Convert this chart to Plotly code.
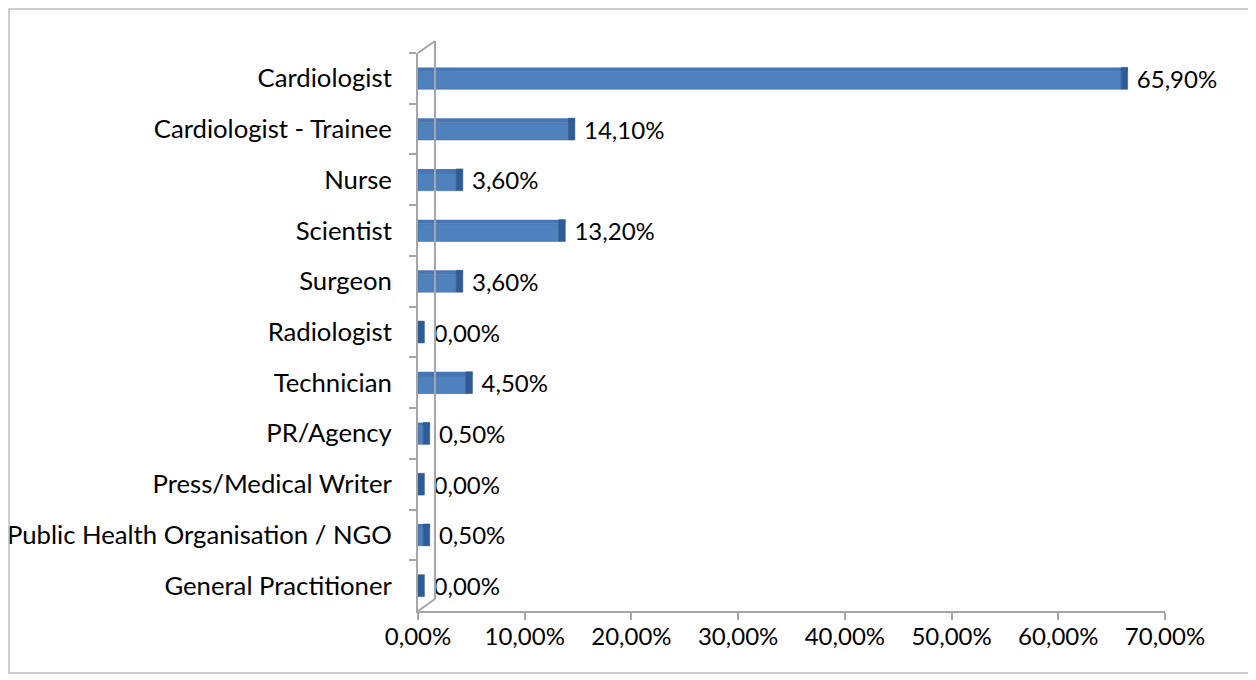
import plotly.graph_objects as go

categories = ["Cardiologist", "Cardiologist - Trainee", "Nurse", "Scientist", "Surgeon",
              "Radiologist", "Technician", "PR/Agency", "Press/Medical Writer",
              "Public Health Organisation / NGO", "General Practitioner"]
values = [65.9, 14.1, 3.6, 13.2, 3.6, 0.0, 4.5, 0.5, 0.0, 0.5, 0.0]
tick_vals = [0, 10, 20, 30, 40, 50, 60, 70]
tick_text = ["0,00%", "10,00%", "20,00%", "30,00%", "40,00%", "50,00%", "60,00%", "70,00%"]

OFF = 8  # page body margin offset
W, H = 1256 - OFF, 680 - OFF
ML, MT = 418 - OFF, 53 - OFF
MR = W - (1165 - OFF)
MB = H - (611 - OFF)
PW, PH = W - ML - MR, H - MT - MB

FONT = "Lato"
FS_CAT = 25.7
FS_NUM = 24
depth = 0.6   # depth face width in axis units (3D look)
n = len(values)
BW = 0.43     # total bar thickness (category units)
TOP = 0.08    # top face thickness

fig = go.Figure()
# front face
fig.add_trace(go.Bar(
    y=categories, x=values, orientation="h", width=BW - TOP, offset=-BW / 2 + TOP,
    marker=dict(color="#4F81BD", line=dict(color="#44649A", width=0.5)),
    hoverinfo="skip", showlegend=False,
))
# top face
fig.add_trace(go.Bar(
    y=categories, x=[v + depth if v > 0 else 0 for v in values], orientation="h",
    width=TOP, offset=-BW / 2,
    marker=dict(color="#4676B4", line=dict(width=0)),
    hoverinfo="skip", showlegend=False,
))
# right side face + label
fig.add_trace(go.Bar(
    y=categories, x=[depth] * n, base=values, orientation="h", width=BW, offset=-BW / 2,
    marker=dict(color="#2D5C96", line=dict(color="#284F82", width=0.5)),
    text=[" " + f"{v:.2f}%".replace(".", ",") for v in values],
    textposition="outside", cliponaxis=False, constraintext="none",
    textfont=dict(family=FONT, size=FS_NUM, color="black"),
    hoverinfo="skip", showlegend=False,
))

# 3D wall decoration (pixel offsets converted to paper coords)
dx, dy = 17 / PW, 12 / PH
wall = dict(color="#A6A6A6", width=2)
shapes = [
    dict(type="line", xref="paper", yref="paper", x0=dx, x1=dx, y0=dy, y1=1 + dy, line=wall),
    dict(type="line", xref="paper", yref="paper", x0=0, x1=dx, y0=1, y1=1 + dy, line=wall),
    dict(type="line", xref="paper", yref="paper", x0=0, x1=dx, y0=0, y1=dy, line=wall),
    # outer chart border
    dict(type="rect", xref="paper", yref="paper",
         x0=(1 - ML) / PW, x1=(1249 - OFF - ML) / PW,
         y0=(H - (673 - OFF) - MB) / PH, y1=(H - 1 - MB) / PH,
         line=dict(color="#BFBFBF", width=1.5)),
]

fig.update_layout(
    width=W, height=H,
    margin=dict(l=ML, r=MR, t=MT, b=MB, autoexpand=False),
    paper_bgcolor="white", plot_bgcolor="white",
    barmode="overlay",
    separators=",.",
    font=dict(family=FONT, size=FS_CAT, color="black"),
    shapes=shapes,
    xaxis=dict(range=[0, 70], tickvals=tick_vals, ticktext=tick_text, automargin=False,
               showgrid=False, zeroline=False, showline=True, linecolor="#A6A6A6", linewidth=2,
               ticks="outside", ticklen=7, tickcolor="#A6A6A6", tickwidth=2,
               ticklabelstandoff=-4,
               tickfont=dict(family=FONT, size=FS_NUM)),
    yaxis=dict(autorange="reversed", showgrid=False, zeroline=False, showline=True,
               automargin=False,
               linecolor="#A6A6A6", linewidth=2, ticks="outside", ticklen=7,
               tickcolor="#A6A6A6", tickwidth=2, tickson="boundaries",
               ticklabelstandoff=19,
               tickfont=dict(family=FONT, size=FS_CAT)),
)

fig.write_html("out.html")
